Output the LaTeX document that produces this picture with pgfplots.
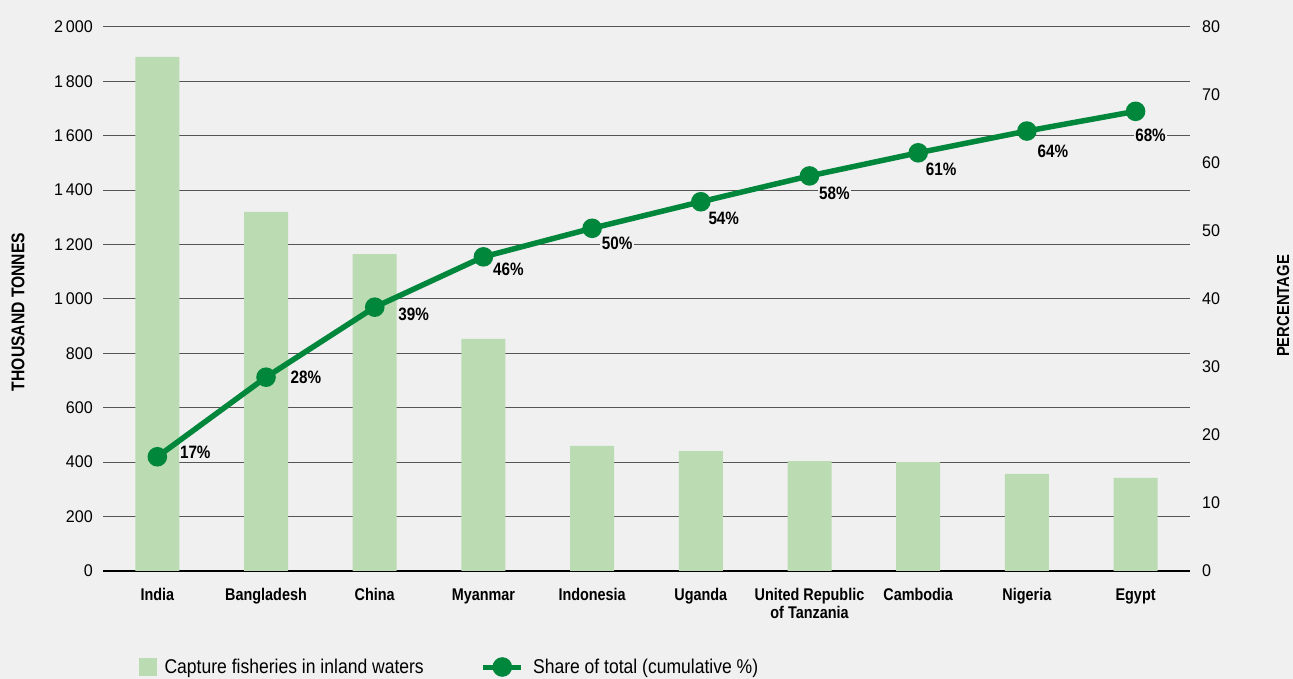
\documentclass[border=0pt]{standalone}
\usepackage{fontspec}
\setmainfont{Liberation Sans}[FakeStretch=0.85]
\newfontfamily\numfont{Liberation Sans}[FakeStretch=0.95]
\newfontfamily\legfont{Liberation Sans}[FakeStretch=0.88]
\usepackage{pgfplots}
\pgfplotsset{compat=1.18}
\definecolor{bg}{HTML}{F0F0F0}
\definecolor{barc}{HTML}{BBDCB3}
\definecolor{lineg}{HTML}{00873C}
\definecolor{gridc}{HTML}{555555}
\begin{document}
\begin{tikzpicture}
\fill[bg] (0bp,0bp) rectangle (1293bp,679bp);
\begin{axis}[
  at={(103bp,108bp)}, anchor=south west,
  scale only axis, width=1087bp, height=544bp,
  xmin=-0.5, xmax=9.5, ymin=0, ymax=2000,
  ytick={0,200,...,2000},
  xtick={0,...,9},
  xticklabels={India,Bangladesh,China,Myanmar,Indonesia,Uganda,{United Republic\\of Tanzania},Cambodia,Nigeria,Egypt},
  typeset ticklabels with strut,
  xticklabel style={font=\bfseries\fontsize{17}{18}\selectfont, align=center, inner sep=0pt, yshift=-17bp},
  yticklabel style={font=\numfont\fontsize{17}{19}\selectfont, inner sep=0pt, xshift=-10bp, yshift=-2bp},
  /pgf/number format/assume math mode=true,
  /pgf/number format/1000 sep={\,},
  major tick length=0pt,
  ymajorgrids, grid style={gridc, line width=1bp},
  axis x line*=bottom, axis y line*=left,
  x axis line style={black, line width=2.5bp, -},
  y axis line style={draw=none},
]
\addplot[ybar, bar width=44bp, fill=barc, draw=none] coordinates {
(0,1890) (1,1320) (2,1165) (3,853) (4,460) (5,441) (6,404) (7,400) (8,357) (9,342)};
\end{axis}
\begin{axis}[
  at={(103bp,108bp)}, anchor=south west,
  scale only axis, width=1087bp, height=544bp,
  xmin=-0.5, xmax=9.5, ymin=0, ymax=80,
  axis x line=none, axis y line*=right, y axis line style={draw=none},
  ytick={0,10,...,80}, major tick length=0pt,
  yticklabel style={font=\numfont\fontsize{17}{19}\selectfont, inner sep=0pt, xshift=12bp, anchor=west},
  /pgf/number format/assume math mode=true,
  legend columns=2,
  legend style={at={(0.0331,-0.1765)}, anchor=west, draw=none, fill=none, inner sep=0pt,
    font=\legfont\fontsize{20}{22}\selectfont, nodes={inner sep=0pt},
    /tikz/every even column/.append style={column sep=57bp}},
  legend cell align=left,
]
\addlegendimage{legend image code/.code={\fill[barc] (0bp,-8.5bp) rectangle (17bp,8.5bp); \path (25bp,0bp);}}
\addlegendentry{Capture fisheries in inland waters}
\addplot[lineg, line width=5.5bp, mark=*, mark size=7bp, mark options={solid, fill=lineg, draw=none},
  legend image code/.code={\draw[lineg, line width=5bp] (0bp,0bp) -- (38bp,0bp); \fill[lineg] (19bp,0bp) circle (7bp); \path (47bp,0bp);}]
 coordinates {(0,16.8) (1,28.5) (2,38.8) (3,46.2) (4,50.4) (5,54.3) (6,58.1) (7,61.5) (8,64.7) (9,67.6)};
\addlegendentry{Share of total (cumulative \%)}
\tikzset{pl/.style={anchor=west, fill=bg, inner sep=1.5bp, font=\bfseries\fontsize{18}{20}\selectfont}}
\node[pl] at ([xshift=21bp,yshift=4bp]axis cs:0,16.8) {17\%};
\node[pl] at ([xshift=23bp,yshift=0bp]axis cs:1,28.5) {28\%};
\node[pl] at ([xshift=22bp,yshift=-7bp]axis cs:2,38.8) {39\%};
\node[pl] at ([xshift=8bp,yshift=-12bp]axis cs:3,46.2) {46\%};
\node[pl] at ([xshift=8bp,yshift=-15bp]axis cs:4,50.4) {50\%};
\node[pl] at ([xshift=6bp,yshift=-17bp]axis cs:5,54.3) {54\%};
\node[pl] at ([xshift=8bp,yshift=-17bp]axis cs:6,58.1) {58\%};
\node[pl] at ([xshift=6bp,yshift=-17bp]axis cs:7,61.5) {61\%};
\node[pl] at ([xshift=9bp,yshift=-20bp]axis cs:8,64.7) {64\%};
\node[pl] at ([xshift=-2bp,yshift=-24bp]axis cs:9,67.6) {68\%};
\end{axis}
\node[rotate=90, font=\bfseries\fontsize{18.5}{20}\selectfont] at (18bp,367bp) {THOUSAND TONNES};
\node[rotate=90, font=\bfseries\fontsize{17.5}{20}\selectfont] at (1283bp,373bp) {PERCENTAGE};
\end{tikzpicture}
\end{document}
